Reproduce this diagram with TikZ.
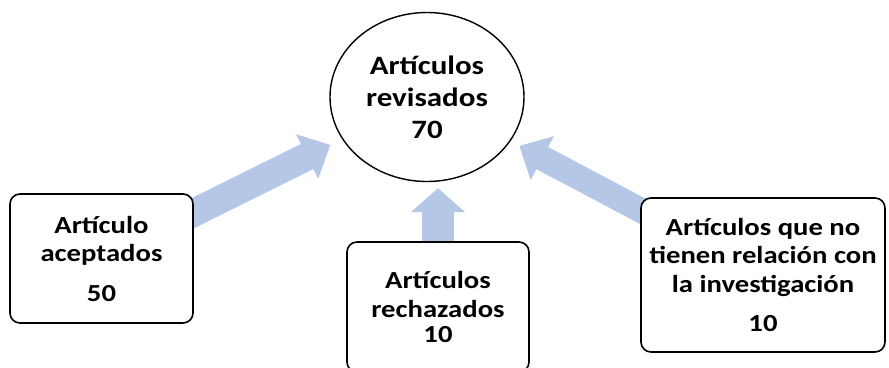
\documentclass[tikz,border=0pt]{standalone}
\usepackage{fontspec}
\setmainfont{Carlito}[FakeStretch=1.17]
\usepackage{tikz}
\usetikzlibrary{arrows.meta,shapes.geometric,backgrounds}
\definecolor{azulclaro}{HTML}{B4C7E7}

\begin{document}
\begin{tikzpicture}[x=1pt, y=-1pt,
every node/.style = {align=center, font=\bfseries\fontsize{24.5}{28.5}\selectfont},
caja/.style = {shape=rectangle, rounded corners=10pt, draw, line width=1.6pt, fill=white, inner sep=0pt},
circulo/.style = {shape=ellipse, draw, line width=1.4pt, fill=white, inner sep=0pt,
	minimum width=194pt, minimum height=169pt, font=\bfseries\fontsize{26.5}{32}\selectfont},
flecha/.style = {draw=azulclaro, line width=28pt, -{Triangle[width=48pt, length=26pt]}}]
\useasboundingbox (0,0) rectangle (889,367);

\node[circulo] (revis) at (427,97) {Artículos\\revisados\\70};
\node[caja, minimum width=183pt, minimum height=129pt] (acept) at (101.5,258.5)
	{Artículo\\aceptados\\[11pt]50};
\node[caja, minimum width=182pt, minimum height=130pt] (rech) at (438,307)
	{Artículos\\rechazados\\[-3pt]10};
\node[caja, minimum width=244pt, minimum height=154pt] (norel) at (763,275)
	{Artículos que no\\tienen relación con\\la investigación\\[11pt]10};

\begin{scope}[on background layer]
\draw[flecha, shorten >=13pt] (acept.center) -- (revis);
\draw[flecha, line width=32pt, -{Triangle[width=53pt, length=24pt]}, shorten >=6pt]
	(rech.center) -- (rech.center |- revis.south);
\draw[flecha, line width=25pt, shorten >=10pt] (norel.center) -- (revis);
\end{scope}
\end{tikzpicture}
\end{document}
